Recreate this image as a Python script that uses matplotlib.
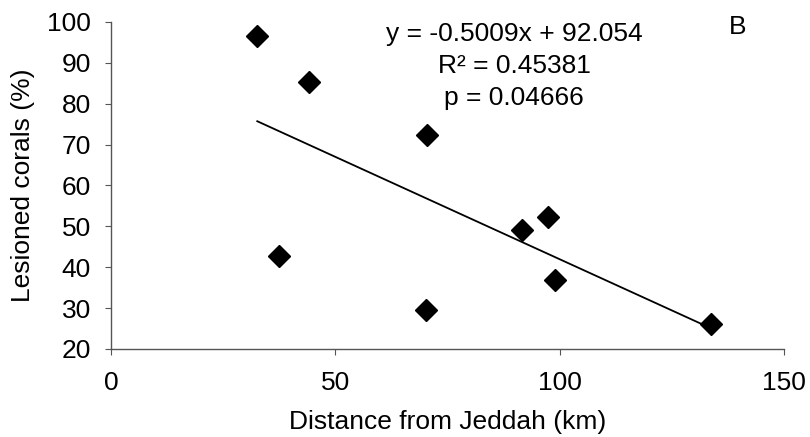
import matplotlib
matplotlib.use("Agg")
import matplotlib.pyplot as plt
import numpy as np

plt.rcParams['font.family'] = ['Liberation Sans', 'DejaVu Sans']

# distance from Jeddah (km) and lesioned corals (%)
dist = [32.6, 44.2, 37.5, 70.5, 70.3, 91.7, 97.3, 98.9, 133.7]
lesioned = [96.6, 85.3, 42.8, 72.4, 29.6, 49.1, 52.2, 36.9, 26.2]
slope = -0.5009
intercept = 92.054
eq_lines = ["y = -0.5009x + 92.054", "R² = 0.45381", "p = 0.04666"]

fs = 19
fig = plt.figure(figsize=(8.1, 4.37), dpi=100)
ax = fig.add_axes([111/810, 1 - 349/437, (784 - 111)/810, (349 - 22)/437])

xf = np.array([min(dist), max(dist)])
ax.plot(xf, slope*xf + intercept, color='black', lw=1.3, zorder=2)
ax.plot(dist, lesioned, 'D', color='black', ms=11, zorder=3)

ax.set_xlim(0, 150)
ax.set_ylim(20, 100)
ax.set_xticks([0, 50, 100, 150])
ax.set_yticks(range(20, 101, 10))
for s in ['top', 'right']:
    ax.spines[s].set_visible(False)
for s in ['left', 'bottom']:
    ax.spines[s].set_color('#555555')
    ax.spines[s].set_linewidth(1)
ax.tick_params(direction='out', length=4.5, color='#555555', labelsize=fs)
ax.tick_params(axis='x', pad=11)
ax.tick_params(axis='y', pad=10)

ax.set_xlabel("Distance from Jeddah (km)", fontsize=fs)
ax.set_ylabel("Lesioned corals (%)", fontsize=fs)
ax.xaxis.set_label_coords(0.5, -(422 - 349)/327)
ax.yaxis.set_label_coords(-(111 - 23)/673, 0.5)
ax.xaxis.label.set_va('center')
ax.yaxis.label.set_va('center')

for i, t in enumerate(eq_lines):
    fig.text(514/810, 1 - (34 + 32*i)/437, t, fontsize=fs, ha='center', va='center')
fig.text(738/810, 1 - 27/437, "B", fontsize=fs, ha='center', va='center')

fig.savefig("out.png", dpi=100)
